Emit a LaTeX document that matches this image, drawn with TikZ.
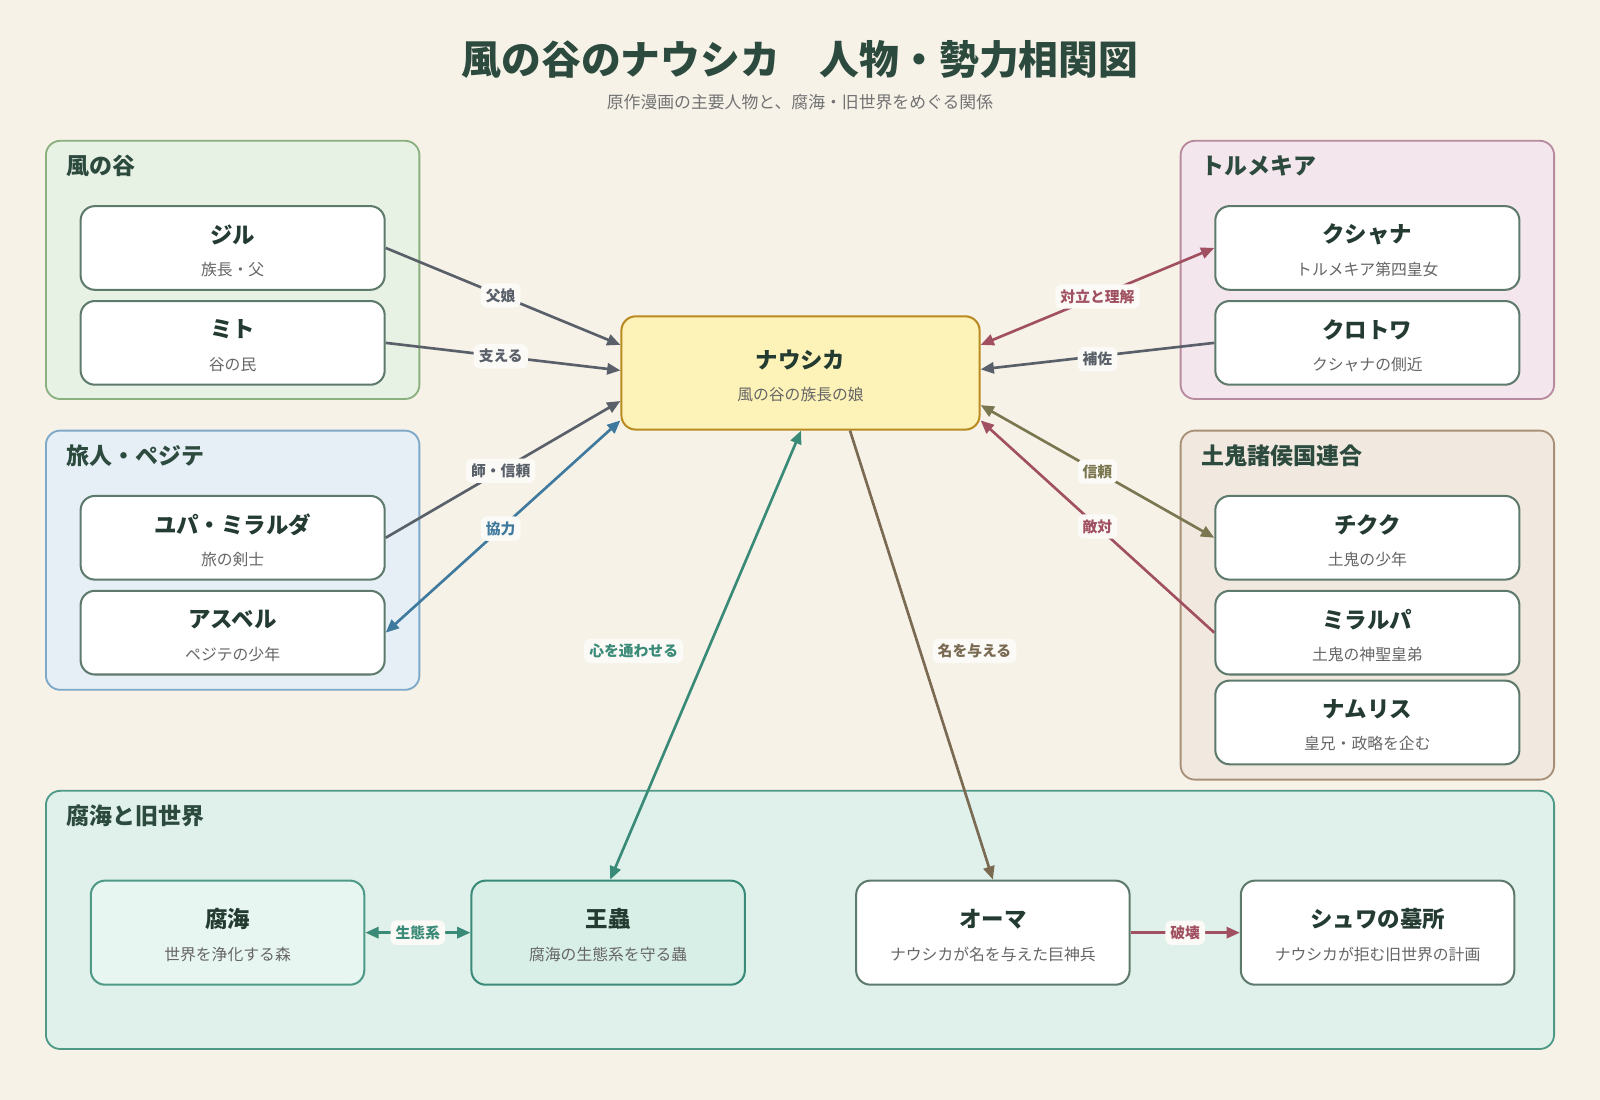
\documentclass[tikz,border=0pt]{standalone}
\usepackage{fontspec}
\setmainfont{Noto Sans CJK JP}
\usetikzlibrary{arrows.meta}
\definecolor{bg}{HTML}{F6F2E8}
\definecolor{ttl}{HTML}{2D4A3E}
\definecolor{nb}{HTML}{5E7A6C}
\definecolor{eg}{HTML}{5A606A}
\definecolor{eb}{HTML}{3F7A9E}
\definecolor{et}{HTML}{3A8A78}
\definecolor{ebr}{HTML}{7A6A52}
\definecolor{er}{HTML}{A05060}
\definecolor{eo}{HTML}{7A7650}
\definecolor{g1b}{HTML}{8AB07F}\definecolor{g1f}{HTML}{E8F2E4}
\definecolor{g2b}{HTML}{7EA8C8}\definecolor{g2f}{HTML}{E6EFF6}
\definecolor{g3b}{HTML}{B88AA0}\definecolor{g3f}{HTML}{F3E6EC}
\definecolor{g4b}{HTML}{A89078}\definecolor{g4f}{HTML}{F1E9DF}
\definecolor{g5b}{HTML}{4E9A86}\definecolor{g5f}{HTML}{E0F1EC}
\definecolor{nauf}{HTML}{FDF2B8}\definecolor{naub}{HTML}{B88A20}
\definecolor{fkf}{HTML}{E8F6F1}\definecolor{omf}{HTML}{D8EFE8}
\tikzset{
 grp/.style={draw=#1, line width=1.8pt, rounded corners=14pt},
 glab/.style={anchor=west, font=\fontsize{22.5}{24}\selectfont\bfseries, text=ttl},
 pnode/.style={draw=nb, line width=2pt, fill=white, rounded corners=14pt, minimum width=298pt, minimum height=82pt},
 ptitle/.style={font=\fontsize{22}{24}\selectfont\bfseries, text=ttl!80!black},
 psub/.style={font=\fontsize{15.5}{17}\selectfont, text=black!60},
 conn/.style={line width=2.6pt, -{Triangle[length=13pt,width=11pt]}},
 bconn/.style={line width=2.6pt, {Triangle[length=13pt,width=11pt]}-{Triangle[length=13pt,width=11pt]}},
 elab/.style={fill=bg!40!white, rounded corners=6pt, font=\fontsize{14.5}{16}\selectfont\bfseries, inner sep=5pt, text=#1},
}
\begin{document}
\begin{tikzpicture}[x=1pt,y=-1pt]
\fill[bg] (0,0) rectangle (1568,1078);
\useasboundingbox (0,0) rectangle (1568,1078);
\node (title) at (784,58) {\fontsize{39}{44}\selectfont\bfseries\color{ttl}風の谷のナウシカ\quad 人物・勢力相関図};
\node (subt) at (784,100) {\fontsize{16.5}{18}\selectfont\color{black!55}原作漫画の主要人物と、腐海・旧世界をめぐる関係};
% groups
\draw[grp=g1b, fill=g1f] (45,138) rectangle (411,391);
\draw[grp=g2b, fill=g2f] (45,422) rectangle (411,676);
\draw[grp=g3b, fill=g3f] (1157,138) rectangle (1523,391);
\draw[grp=g4b, fill=g4f] (1157,422) rectangle (1523,764);
\draw[grp=g5b, fill=g5f] (45,775) rectangle (1523,1028);
\node[glab] (g1) at (62,163) {風の谷};
\node[glab] (g2) at (62,447) {旅人・ペジテ};
\node[glab] (g3) at (1174,163) {トルメキア};
\node[glab] (g4) at (1174,447) {土鬼諸侯国連合};
\node[glab] (g5) at (62,800) {腐海と旧世界};
% person nodes
\newcommand{\pers}[5]{%
 \node[pnode,#5] (#1) at #2 {};
 \node[ptitle] (#1t) at ([yshift=13pt]#1.center) {#3};
 \node[psub] (#1s) at ([yshift=-21pt]#1.center) {#4};}
\pers{jil}{(228,243)}{ジル}{族長・父}{}
\pers{mito}{(228,336)}{ミト}{谷の民}{}
\pers{yupa}{(228,527)}{ユパ・ミラルダ}{旅の剣士}{}
\pers{asb}{(228,620)}{アスベル}{ペジテの少年}{}
\pers{kus}{(1340,243)}{クシャナ}{トルメキア第四皇女}{}
\pers{kur}{(1340,336)}{クロトワ}{クシャナの側近}{}
\pers{chi}{(1340,527)}{チクク}{土鬼の少年}{}
\pers{mir}{(1340,620)}{ミラルパ}{土鬼の神聖皇弟}{}
\pers{nam}{(1340,708)}{ナムリス}{皇兄・政略を企む}{}
\pers{nau}{(784.5,365.5)}{ナウシカ}{風の谷の族長の娘}{minimum width=351pt, minimum height=111pt, fill=nauf, draw=naub}
\pers{fukai}{(223,914)}{腐海}{世界を浄化する森}{minimum width=268pt, minimum height=102pt, fill=fkf, draw=g5b}
\pers{ohmu}{(596,914)}{王蟲}{腐海の生態系を守る蟲}{minimum width=268pt, minimum height=102pt, fill=omf, draw=et}
\pers{oma}{(973,914)}{オーマ}{ナウシカが名を与えた巨神兵}{minimum width=268pt, minimum height=102pt}
\pers{shuwa}{(1350,914)}{シュワの墓所}{ナウシカが拒む旧世界の計画}{minimum width=268pt, minimum height=102pt}
% edges
\draw[conn,eg] (jil.east) -- node[elab=eg,pos=0.49]{父娘} (nau.west |- 0,338);
\draw[conn,eg] (mito.east) -- node[elab=eg,pos=0.49]{支える} (nau.west |- 0,363);
\draw[conn,eg] (yupa.east) -- node[elab=eg,pos=0.49]{師・信頼} (nau.west |- 0,393);
\draw[bconn,eb] (nau.west |- 0,412) -- node[elab=eb,pos=0.51]{協力} (asb.east);
\draw[bconn,et] (nau.south -| 785,0) -- (ohmu.north -| 598,0);
\node[elab=et] (l1) at (621,638) {心を通わせる};
\draw[conn,ebr] (nau.south -| 833,0) -- (oma.north);
\node[elab=ebr] (l2) at (955,638) {名を与える};
\draw[bconn,er] (nau.east |- 0,338) -- node[elab=er,pos=0.5]{対立と理解} (kus.west);
\draw[conn,eg] (kur.west) -- node[elab=eg,pos=0.5,yshift=-3pt]{補佐} (nau.east |- 0,362);
\draw[bconn,eo] (nau.east |- 0,397) -- node[elab=eo,pos=0.5]{信頼} (chi.west);
\draw[conn,er] (mir.west) -- node[elab=er,pos=0.5]{敵対} (nau.east |- 0,412);
\draw[bconn,et] (fukai.east) -- node[elab=et]{生態系} (ohmu.west);
\draw[conn,er] (oma.east) -- node[elab=er]{破壊} (shuwa.west);
\end{tikzpicture}
\end{document}
